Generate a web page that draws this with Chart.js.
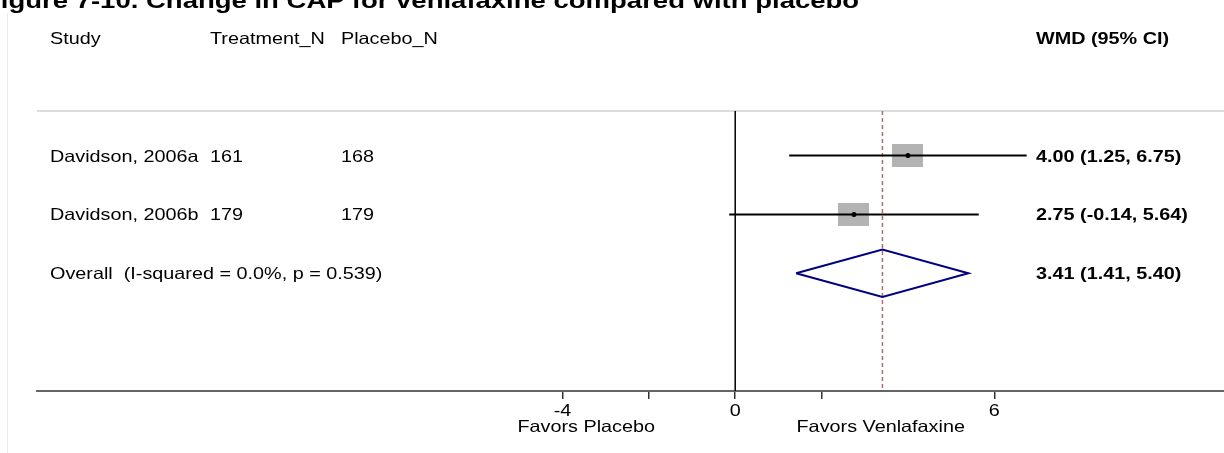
<!DOCTYPE html>
<html>
<head>
<meta charset="utf-8">
<script src="https://cdn.jsdelivr.net/npm/chart.js@4"></script>
<style>
html, body { margin: 0; padding: 0; background: #fff; overflow: hidden; }
#wrap { position: relative; width: 1224px; height: 453px; overflow: hidden; }
#title { position: absolute; left: -16px; top: -12px; z-index: 2; white-space: nowrap;
  font: bold 22px "Liberation Sans", Arial, sans-serif; color: #000;
  transform: scaleX(1.25); transform-origin: 0 0; }
#edge { position: absolute; left: 7px; top: 13px; width: 1px; height: 440px; background: #e4edf5; }
canvas { position: absolute; left: 0; top: 0; }
</style>
</head>
<body>
<div id="wrap">
  <div id="title">Figure 7-10. Change in CAP for venlafaxine compared with placebo</div>
  <div id="edge"></div>
  <canvas id="forest" width="1224" height="453"></canvas>
</div>
<script>
// data
const studies = ["Davidson, 2006a", "Davidson, 2006b"];
const treatN = [161, 179];
const placeboN = [168, 179];
const wmd = [4.00, 2.75];
const ciLow = [1.25, -0.14];
const ciHigh = [6.75, 5.64];
const overallLabel = "Overall  (I-squared = 0.0%, p = 0.539)";
const overallEst = 3.41;
const overallLow = 1.41;
const overallHigh = 5.40;
const headers = ["Study", "Treatment_N", "Placebo_N", "WMD (95% CI)"];
const xTicks = [-4, -2, 0, 2, 6];
const xTickLabels = ["-4", "", "0", "", "6"];
const favorLabels = ["Favors Placebo", "Favors Venlafaxine"];

// layout
const X_MIN = -16.17, X_MAX = 11.32;
const Y_MIN = 0.243, Y_MAX = 5.0;
const colX = [50, 210, 341, 1036];
const favorAt = [-3.45, 3.37];
const SX = 1.2;
const FONT = "16.5px 'Liberation Sans', Arial, sans-serif";

const rows = studies.map((s, i) => i + 1);
const overallRow = studies.length + 1;
const diamondHalf = 0.403;

function fmt(v) { return v.toFixed(2); }

function wideText(ctx, txt, x, y, bold, align) {
    ctx.save();
    ctx.font = (bold ? "bold " : "") + FONT;
    let w = ctx.measureText(txt).width * SX;
    let x0 = align === "center" ? x - w / 2 : x;
    ctx.translate(x0, y);
    ctx.scale(SX, 1);
    ctx.textAlign = "left";
    ctx.textBaseline = "alphabetic";
    ctx.fillStyle = "#000";
    ctx.fillText(txt, 0, 0);
    ctx.restore();
}

// grey weight box
const box = document.createElement("canvas");
box.width = 31; box.height = 23;
let bctx = box.getContext("2d");
bctx.fillStyle = "#b3b3b3";
bctx.fillRect(0, 0, 31, 23);

let datasets = [];

// CI lines
studies.forEach((s, i) => {
    datasets.push({
        type: 'line', data: [{x: ciLow[i], y: rows[i]}, {x: ciHigh[i], y: rows[i]}],
        borderColor: '#000', borderWidth: 2, pointRadius: 0, order: 2
    });
});

// boxes
datasets.push({
    type: 'scatter', data: wmd.map((v, i) => ({x: v, y: rows[i]})),
    pointStyle: box, pointRadius: 12, order: 4
});

// point estimates
datasets.push({
    type: 'scatter', data: wmd.map((v, i) => ({x: v, y: rows[i]})),
    pointStyle: 'circle', pointRadius: 2.5, backgroundColor: '#000', borderColor: '#000', borderWidth: 0, order: 1
});

// overall diamond
datasets.push({
    type: 'line',
    data: [
        {x: overallLow, y: overallRow},
        {x: overallEst, y: overallRow - diamondHalf},
        {x: overallHigh, y: overallRow},
        {x: overallEst, y: overallRow + diamondHalf},
        {x: overallLow, y: overallRow}
    ],
    borderColor: '#000080', borderWidth: 2, pointRadius: 0, tension: 0, fill: false, order: 2
});

// line of no effect
datasets.push({
    type: 'line', data: [{x: 0, y: Y_MIN}, {x: 0, y: Y_MAX}],
    borderColor: '#000', borderWidth: 1.5, pointRadius: 0, order: 3
});

// overall estimate line
datasets.push({
    type: 'line', data: [{x: overallEst, y: Y_MIN}, {x: overallEst, y: Y_MAX}],
    borderColor: '#b26a6a', borderWidth: 1.5, borderDash: [4, 3], pointRadius: 0, order: 3
});

const textPlugin = {
    id: 'forestText',
    beforeDatasetsDraw(chart) {
        let ctx = chart.ctx, a = chart.chartArea;
        ctx.save();
        ctx.strokeStyle = '#dcdcdc';
        ctx.lineWidth = 2;
        ctx.beginPath();
        ctx.moveTo(a.left, a.top);
        ctx.lineTo(a.right, a.top);
        ctx.stroke();
        ctx.restore();
    },
    afterDraw(chart) {
        let ctx = chart.ctx;
        let ys = chart.scales.y, xs = chart.scales.x;
        let base = r => ys.getPixelForValue(r) + 6;

        // header
        headers.slice(0, 3).forEach((h, i) => wideText(ctx, h, colX[i], base(-1), false));
        wideText(ctx, headers[3], colX[3], base(-1), true);

        // study rows
        studies.forEach((s, i) => {
            let y = base(rows[i]);
            wideText(ctx, s, colX[0], y, false);
            wideText(ctx, String(treatN[i]), colX[1], y, false);
            wideText(ctx, String(placeboN[i]), colX[2], y, false);
            wideText(ctx, `${fmt(wmd[i])} (${fmt(ciLow[i])}, ${fmt(ciHigh[i])})`, colX[3], y, true);
        });

        // overall
        wideText(ctx, overallLabel, colX[0], base(overallRow), false);
        wideText(ctx, `${fmt(overallEst)} (${fmt(overallLow)}, ${fmt(overallHigh)})`, colX[3], base(overallRow), true);

        // axis labels
        xs.ticks.forEach((t, i) => {
            if (xTickLabels[i]) wideText(ctx, xTickLabels[i], xs.getPixelForValue(t.value), 416, false, "center");
        });
        favorLabels.forEach((f, i) => wideText(ctx, f, xs.getPixelForValue(favorAt[i]), 432, false, "center"));
    }
};

new Chart(document.getElementById("forest").getContext("2d"), {
    type: 'scatter',
    data: { datasets },
    options: {
        responsive: false,
        animation: false,
        devicePixelRatio: 1,
        layout: { autoPadding: false, padding: { left: 37, top: 111, right: 0, bottom: 0 } },
        plugins: { legend: { display: false }, tooltip: { enabled: false } },
        scales: {
            x: {
                type: 'linear', min: X_MIN, max: X_MAX,
                afterBuildTicks: s => { s.ticks = xTicks.map(v => ({ value: v })); },
                afterFit: s => { s.height = 62; },
                ticks: { display: false },
                grid: { display: true, drawOnChartArea: false, drawTicks: true, tickLength: 8, color: '#333', lineWidth: 1.5 },
                border: { display: true, color: '#666', width: 2 }
            },
            y: {
                type: 'linear', min: Y_MIN, max: Y_MAX, reverse: true, display: false
            }
        }
    },
    plugins: [textPlugin]
});
</script>
</body>
</html>
